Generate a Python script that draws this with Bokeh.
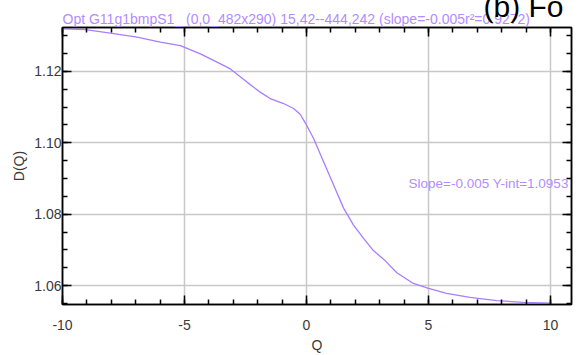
from bokeh.plotting import figure
from bokeh.models import (LinearAxis, Label, Range1d, SingleIntervalTicker, Grid,
                          Title, PrintfTickFormatter, CustomJSTickFormatter)
from bokeh.embed import file_html
from bokeh.resources import INLINE

q = [-9.95, -9.06, -8.04, -6.94, -5.99, -5.17, -4.35, -3.81, -3.12, -2.44,
     -1.90, -1.49, -0.94, -0.53, -0.26, -0.05, 0.29, 0.70, 1.11, 1.52, 1.92,
     2.33, 2.74, 3.22, 3.70, 4.38, 4.97, 5.74, 6.70, 7.79, 8.88, 10.04]
d = [1.1319, 1.1317, 1.1307, 1.1296, 1.1282, 1.1272, 1.1249, 1.1231, 1.1207,
     1.1170, 1.1142, 1.1124, 1.1110, 1.1096, 1.1080, 1.1056, 1.1012, 1.0947,
     1.0882, 1.0817, 1.0770, 1.0733, 1.0698, 1.0670, 1.0636, 1.0606, 1.0593,
     1.0578, 1.0567, 1.0558, 1.0553, 1.0551]

title_text = "Opt G11g1bmpS1_ (0,0_482x290) 15,42--444,242 (slope=-0.005r\u00b2=0.9272)"
fit_text = "Slope=-0.005 Y-int=1.0953"
corner_text = "(b) Fo"
x_label = "Q"
y_label = "D(Q)"

FONT = "Liberation Sans"
PURPLE_LINE = "#a97dff"
PURPLE_TEXT = "#b48cff"
TICK_COLOR = "#3a3a3a"

p = figure(width=586, height=355, output_backend="svg", toolbar_location=None,
           x_range=Range1d(-10, 10.86), y_range=Range1d(1.0547, 1.1323),
           min_border_left=62, min_border_right=15, min_border_top=27,
           min_border_bottom=51, x_axis_type=None, y_axis_type=None)
p.outline_line_color = "black"
p.outline_line_width = 1.5
p.background_fill_color = "white"
p.border_fill_color = "white"

xt = SingleIntervalTicker(interval=5, num_minor_ticks=5)
yt = SingleIntervalTicker(interval=0.02, num_minor_ticks=4)
blank = CustomJSTickFormatter(code="return ''")

def style(ax, labels=True):
    ax.axis_line_color = "black"
    ax.axis_line_width = 1.5
    ax.major_tick_in = 9
    ax.major_tick_out = 0
    ax.minor_tick_in = 5
    ax.minor_tick_out = 0
    ax.major_tick_line_color = "black"
    ax.minor_tick_line_color = "black"
    ax.major_tick_line_width = 1.5
    ax.minor_tick_line_width = 1.5
    ax.major_label_text_font = FONT
    ax.major_label_text_font_size = "14px"
    ax.major_label_text_color = TICK_COLOR
    ax.axis_label_text_font = FONT
    ax.axis_label_text_font_size = "14px"
    ax.axis_label_text_font_style = "normal"
    ax.axis_label_text_color = TICK_COLOR
    if not labels:
        ax.formatter = blank
        ax.major_label_standoff = 0

bottom = LinearAxis(ticker=xt, axis_label=x_label,
                    formatter=PrintfTickFormatter(format="%d"))
style(bottom)
bottom.major_label_standoff = 15
bottom.axis_label_standoff = 4
top = LinearAxis(ticker=xt)
style(top, labels=False)
left = LinearAxis(ticker=yt, axis_label=y_label,
                  formatter=PrintfTickFormatter(format="%.2f"))
style(left)
left.major_label_standoff = 1
left.axis_label_standoff = 4
right = LinearAxis(ticker=yt)
style(right, labels=False)

p.add_layout(bottom, "below")
p.add_layout(top, "above")
p.add_layout(left, "left")
p.add_layout(right, "right")

p.add_layout(Grid(dimension=0, ticker=xt, grid_line_color="#c8c8c8", grid_line_width=1.5))
p.add_layout(Grid(dimension=1, ticker=yt, grid_line_color="#c8c8c8", grid_line_width=1.5))

p.line(q, d, line_color=PURPLE_LINE, line_width=1.3)

# main title, closest to the frame
p.add_layout(Title(text=title_text, align="left", vertical_align="bottom",
                   standoff=2, text_font=FONT, text_font_size="14px",
                   text_font_style="normal", text_color=PURPLE_TEXT), "above")

# cropped heading of the neighbouring panel, outermost
p.title.text = corner_text
p.title.align = "right"
p.title.vertical_align = "bottom"
p.title.offset = 8
p.title.standoff = -30
p.title.text_font = FONT
p.title.text_font_size = "30px"
p.title.text_font_style = "normal"
p.title.text_color = "black"

p.add_layout(Label(x=346, y=121, x_units="screen", y_units="screen", text=fit_text,
                   text_font=FONT, text_font_size="13.5px", text_color=PURPLE_TEXT,
                   text_baseline="middle"))

open("out.html", "w").write(file_html(p, INLINE))
